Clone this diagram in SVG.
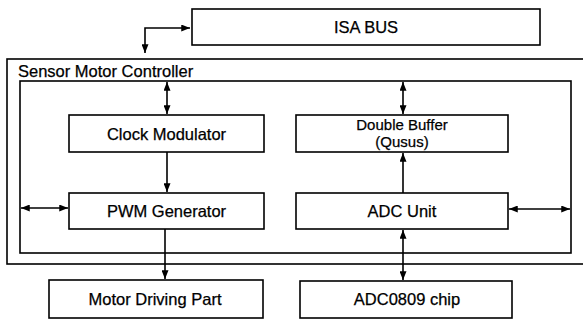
<svg xmlns="http://www.w3.org/2000/svg" width="583" height="320" viewBox="0 0 583 320">
<style>
.box{fill:#fff;stroke:#000;stroke-width:1.6}
.frame{fill:none;stroke:#000;stroke-width:1.6}
.t{font-family:"Liberation Sans",Arial,sans-serif;font-size:16.5px;fill:#000;stroke:#000;stroke-width:0.25;text-anchor:middle}
.t2{font-family:"Liberation Sans",Arial,sans-serif;font-size:15px;fill:#000;stroke:#000;stroke-width:0.25;text-anchor:middle}
.lbl{font-family:"Liberation Sans",Arial,sans-serif;font-size:16.5px;fill:#000;stroke:#000;stroke-width:0.25}
.c{fill:none;stroke:#000;stroke-width:1.6}
</style>
<defs>
<marker id="ah" viewBox="0 0 10 8" refX="10" refY="4" markerWidth="9" markerHeight="7" markerUnits="userSpaceOnUse" orient="auto-start-reverse">
<path d="M0,0 L10,4 L0,8 Z" fill="#000"/>
</marker>
</defs>
<rect width="583" height="320" fill="#fff"/>
<g id="controller">
<rect class="frame" x="7" y="59" width="590" height="205"/>
<rect class="frame" x="20" y="81" width="551" height="172"/>
<text class="lbl" x="18" y="77">Sensor Motor Controller</text>
</g>
<g id="isa-bus">
<rect class="box" x="192" y="9" width="348" height="36"/>
<text class="t" x="366" y="33">ISA BUS</text>
</g>
<g id="clock-modulator">
<rect class="box" x="69" y="115" width="195" height="37"/>
<text class="t" x="166.5" y="139.5">Clock Modulator</text>
</g>
<g id="pwm-generator">
<rect class="box" x="69" y="193" width="195" height="36"/>
<text class="t" x="166.5" y="217">PWM Generator</text>
</g>
<g id="double-buffer">
<rect class="box" x="296" y="115" width="212" height="37"/>
<text class="t2" x="402" y="130">Double Buffer</text>
<text class="t2" x="402" y="147">(Qusus)</text>
</g>
<g id="adc-unit">
<rect class="box" x="296" y="193" width="212" height="36"/>
<text class="t" x="402" y="217">ADC Unit</text>
</g>
<g id="motor-driving-part">
<rect class="box" x="49" y="280" width="214" height="38"/>
<text class="t" x="155" y="305">Motor Driving Part</text>
</g>
<g id="adc0809-chip">
<rect class="box" x="300" y="281" width="212" height="37"/>
<text class="t" x="407" y="305">ADC0809 chip</text>
</g>
<g id="connectors">
<path class="c" d="M145,53 V28 H190" marker-start="url(#ah)" marker-end="url(#ah)"/>
<path class="c" d="M167,82 V114" marker-start="url(#ah)" marker-end="url(#ah)"/>
<path class="c" d="M167,152 V192" marker-end="url(#ah)"/>
<path class="c" d="M21,208 H68" marker-start="url(#ah)" marker-end="url(#ah)"/>
<path class="c" d="M165,229 V279" marker-end="url(#ah)"/>
<path class="c" d="M403,82 V114" marker-start="url(#ah)" marker-end="url(#ah)"/>
<path class="c" d="M403,193 V153" marker-end="url(#ah)"/>
<path class="c" d="M509,209 H570" marker-start="url(#ah)" marker-end="url(#ah)"/>
<path class="c" d="M403,230 V280" marker-start="url(#ah)" marker-end="url(#ah)"/>
</g>
</svg>
